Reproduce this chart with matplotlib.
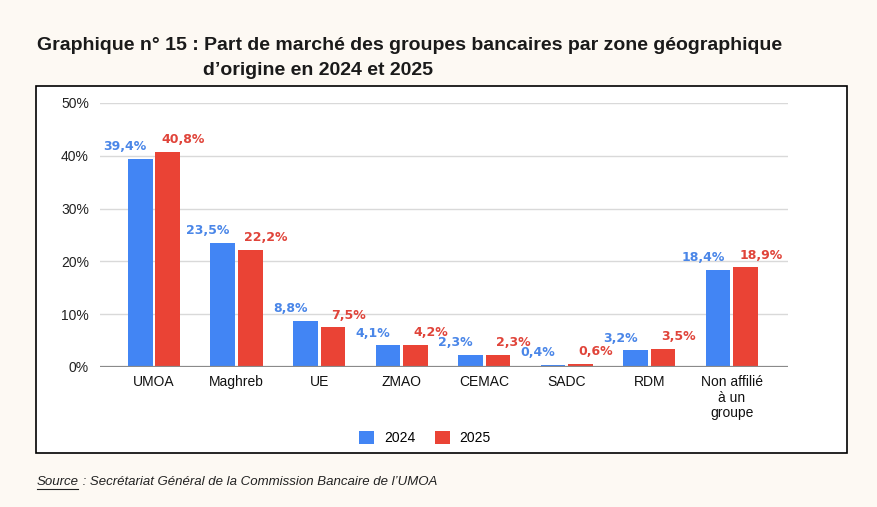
import matplotlib
matplotlib.use('Agg')
import matplotlib.pyplot as plt
from matplotlib.patches import Rectangle
from matplotlib.lines import Line2D
import numpy as np

categories = ['UMOA', 'Maghreb', 'UE', 'ZMAO', 'CEMAC', 'SADC', 'RDM', 'Non affilié\nà un\ngroupe']
val_2024 = [39.4, 23.5, 8.8, 4.1, 2.3, 0.4, 3.2, 18.4]
val_2025 = [40.8, 22.2, 7.5, 4.2, 2.3, 0.6, 3.5, 18.9]
series_names = ['2024', '2025']
yticks = [0, 10, 20, 30, 40, 50]

BLUE = '#4285F4'
RED = '#EA4335'
BLUE_TXT = '#4a86e8'
RED_TXT = '#e0443a'
BG = '#fdf9f3'

W, H = 878, 507
fig = plt.figure(figsize=(W / 100, H / 100), dpi=100, facecolor=BG)

# white chart box with black border
box = Rectangle((36 / W, 1 - 453 / H), (847 - 36) / W, (453 - 86) / H,
                transform=fig.transFigure, facecolor='white', edgecolor='black',
                linewidth=1.2, zorder=-1)
fig.patches.append(box)

ax = fig.add_axes([100 / W, 1 - 367 / H, (788 - 100) / W, (367 - 103) / H], zorder=2)
ax.set_facecolor('none')

x = np.arange(len(categories))
bw = 0.30
off = 0.167
ax.bar(x - off, val_2024, bw, color=BLUE, zorder=3, label=series_names[0])
ax.bar(x + off, val_2025, bw, color=RED, zorder=3, label=series_names[1])

for i in range(len(categories)):
    ax.annotate(f'{val_2024[i]:.1f}%'.replace('.', ','), (x[i] - off, val_2024[i]),
                xytext=(-11, 4), textcoords='offset points', ha='center', va='bottom',
                color=BLUE_TXT, fontsize=9, fontweight='bold', family='DejaVu Sans')
    ax.annotate(f'{val_2025[i]:.1f}%'.replace('.', ','), (x[i] + off, val_2025[i]),
                xytext=(11, 4), textcoords='offset points', ha='center', va='bottom',
                color=RED_TXT, fontsize=9, fontweight='bold', family='DejaVu Sans')

ax.set_ylim(0, 50)
ax.set_xlim(-0.655, 7.68)
ax.set_yticks(yticks)
ax.set_yticklabels([f'{t}%' for t in yticks], family='Liberation Sans', fontsize=10, color='#222222')
ax.set_xticks(x)
ax.set_xticklabels(categories, family='Liberation Sans', fontsize=10, color='#111111',
                   linespacing=1.12, va='top')
ax.tick_params(axis='both', length=0)
ax.tick_params(axis='y', pad=8)
ax.tick_params(axis='x', pad=6)
for s in ax.spines.values():
    s.set_visible(False)
ax.yaxis.grid(True, color='#d9d9d9', linewidth=1, zorder=0)
ax.axhline(0, color='#8a8a8a', linewidth=1.6, zorder=4)

leg = fig.legend(loc='center', bbox_to_anchor=(425 / W, 1 - 438 / H), ncol=2, frameon=False,
                 prop={'family': 'Liberation Sans', 'size': 10}, handlelength=1.1,
                 handleheight=1.1, handletextpad=0.7, columnspacing=1.4)

# title, second line aligned with "Part"
fig.text(37 / W, 1 - 50 / H, "Graphique n° 15 : Part de marché des groupes bancaires par zone géographique",
         family='Liberation Sans', fontweight='bold', fontsize=14, color='#1a1a1a', va='baseline')
fig.text(203 / W, 1 - 75 / H, "d\u2019origine en 2024 et 2025",
         family='Liberation Sans', fontweight='bold', fontsize=14, color='#1a1a1a', va='baseline')

# source line with underlined "Source"
t1 = fig.text(37 / W, 1 - 485 / H, 'Source', family='Liberation Sans', style='italic',
              fontsize=9.5, color='#222222', va='baseline')
fig.canvas.draw()
bb = t1.get_window_extent()
fig.text(bb.x1 / W, 1 - 485 / H, ' : Secrétariat Général de la Commission Bancaire de l\u2019UMOA',
         family='Liberation Sans', style='italic', fontsize=9.5, color='#222222', va='baseline')
fig.lines.append(Line2D([bb.x0 / W, (bb.x1 - 1) / W], [(bb.y0 - 1) / H, (bb.y0 - 1) / H],
                        transform=fig.transFigure, color='#222222', linewidth=0.8))

fig.savefig('out.png', dpi=100, facecolor=BG)
